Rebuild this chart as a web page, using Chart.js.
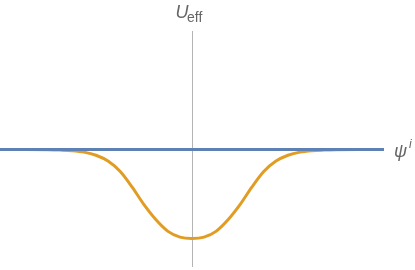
<!DOCTYPE html>
<html>
<head>
<meta charset="utf-8">
<script src="https://cdn.jsdelivr.net/npm/chart.js@4.4.1/dist/chart.umd.min.js"></script>
<style>
  html, body { margin: 0; padding: 0; background: #fff; }
  #wrap { position: relative; width: 415px; height: 270px; }
</style>
</head>
<body>
<div id="wrap"><canvas id="chart"></canvas></div>
<script>
// Data
const xValues = [-4, -3.5, -3, -2.75, -2.5, -2.25, -2, -1.75, -1.5, -1.25, -1, -0.75, -0.5, -0.25, 0,
  0.25, 0.5, 0.75, 1, 1.25, 1.5, 1.75, 2, 2.25, 2.5, 2.75, 3, 3.5, 4];
const flatValues = xValues.map(() => 0);
const wellValues = [0, 0, -0.003, -0.007, -0.014, -0.03, -0.065, -0.13, -0.245, -0.42, -0.62, -0.79, -0.92, -0.985, -1,
  -0.985, -0.92, -0.79, -0.62, -0.42, -0.245, -0.13, -0.065, -0.03, -0.014, -0.007, -0.003, 0, 0];

const axisColor = '#b4b4b4';
const textColor = '#666666';

// Draw axes through the origin and the axis labels
const axesPlugin = {
  id: 'axes',
  beforeDatasetsDraw(chart) {
    const { ctx, chartArea, scales } = chart;
    const x0 = Math.round(scales.x.getPixelForValue(0)) + 0.5;
    const y0 = Math.round(scales.y.getPixelForValue(0)) + 0.5;
    ctx.save();
    ctx.strokeStyle = axisColor;
    ctx.lineWidth = 1;
    ctx.beginPath();
    ctx.moveTo(x0, chartArea.top);
    ctx.lineTo(x0, chartArea.bottom);
    ctx.moveTo(chartArea.left, y0);
    ctx.lineTo(chartArea.right, y0);
    ctx.stroke();
    ctx.restore();
  },
  afterDraw(chart) {
    const { ctx } = chart;
    ctx.save();
    ctx.fillStyle = textColor;
    ctx.textBaseline = 'alphabetic';
    ctx.textAlign = 'left';
    ctx.font = "italic 18px 'Liberation Sans'";
    ctx.fillText('U', 175.5, 18);
    ctx.font = "14px 'Liberation Sans'";
    ctx.fillText('eff', 187, 21.5);
    ctx.font = "italic 18px 'Liberation Sans'";
    ctx.fillText('\u03C8', 394, 157);
    ctx.font = "italic 12px 'Liberation Sans'";
    ctx.fillText('i', 409, 148);
    ctx.restore();
  }
};

const ctx = document.getElementById('chart').getContext('2d');
new Chart(ctx, {
  type: 'line',
  data: {
    labels: xValues,
    datasets: [
      {
        data: xValues.map((x, i) => ({ x, y: flatValues[i] })),
        borderColor: '#5e81b5',
        borderWidth: 3,
        pointRadius: 0,
        clip: false
      },
      {
        data: xValues.map((x, i) => ({ x, y: wellValues[i] })),
        borderColor: '#e19c24',
        borderWidth: 3,
        pointRadius: 0,
        cubicInterpolationMode: 'monotone',
        clip: false
      }
    ]
  },
  options: {
    responsive: true,
    maintainAspectRatio: false,
    animation: false,
    layout: { padding: { left: 0, right: 31, top: 31, bottom: 3 } },
    plugins: { legend: { display: false }, tooltip: { enabled: false } },
    scales: {
      x: { type: 'linear', min: -4, max: 4, display: false },
      y: { type: 'linear', min: -1.32, max: 1.33, display: false }
    }
  },
  plugins: [axesPlugin]
});
</script>
</body>
</html>
